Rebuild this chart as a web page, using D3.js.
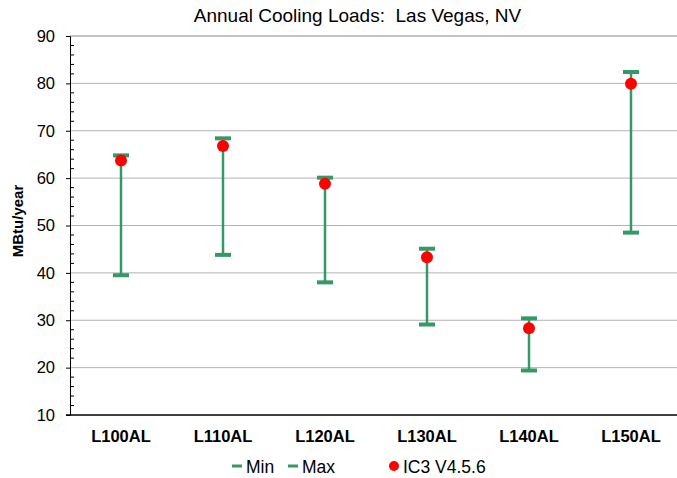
<!DOCTYPE html>
<html><head><meta charset="utf-8">
<script src="https://cdn.jsdelivr.net/npm/d3@7"></script>
<style>body{margin:0;background:#fff}text{font-family:"Liberation Sans",Arial,sans-serif;white-space:pre}</style>
</head><body><svg id="c" width="677" height="478"></svg>
<script>
const categories = ["L100AL","L110AL","L120AL","L130AL","L140AL","L150AL"];
const minValues = [39.5, 43.8, 38.0, 29.1, 19.4, 48.5];
const maxValues = [64.8, 68.4, 60.1, 45.1, 30.4, 82.4];
const ic3Values = [63.7, 66.8, 58.8, 43.3, 28.3, 79.9];
const yTicks = [10,20,30,40,50,60,70,80,90];

(function(){
const svg = d3.select("#c");
const green = "#339966", red = "#ff0000";
const pL = 70, pR = 682, pT = 36, pB = 415;
const x = d3.scaleBand().domain(categories).range([pL, pR]);
const y = d3.scaleLinear().domain([10, 90]).range([pB, pT]);

// gridlines
svg.append("g").selectAll("line").data(yTicks.slice(1)).join("line")
  .attr("x1", pL).attr("x2", 677).attr("y1", d => y(d)).attr("y2", d => y(d))
  .attr("stroke", d => d === 90 ? "#888" : "#b3b3b3").attr("stroke-width", 1);

// minor ticks
const minor = d3.range(12, 90, 2).filter(v => v % 10 !== 0);
svg.append("g").selectAll("line").data(minor).join("line")
  .attr("x1", pL).attr("x2", pL + 4).attr("y1", d => y(d)).attr("y2", d => y(d))
  .attr("stroke", "#000").attr("stroke-width", 1);

// y axis
const ya = svg.append("g").attr("transform", `translate(${pL},0)`)
  .call(d3.axisLeft(y).tickValues(yTicks).tickSize(4).tickPadding(11));
ya.select(".domain").attr("stroke", "#000");
ya.selectAll("text").attr("font-size", 16.5).attr("fill", "#000").attr("font-family", "Liberation Sans, Arial, sans-serif");

// x axis line
svg.append("line").attr("x1", pL - 4).attr("x2", 677).attr("y1", pB).attr("y2", pB)
  .attr("stroke", "#000").attr("stroke-width", 1.5);

// category labels
svg.append("g").selectAll("text").data(categories).join("text")
  .attr("x", d => x(d) + x.bandwidth() / 2).attr("y", 442)
  .attr("text-anchor", "middle").attr("font-size", 16.5).attr("font-weight", "bold").text(d => d);

// range bars
const g = svg.append("g");
categories.forEach((c, i) => {
  const cx = x(c) + x.bandwidth() / 2;
  g.append("line").attr("x1", cx).attr("x2", cx).attr("y1", y(minValues[i])).attr("y2", y(maxValues[i]))
    .attr("stroke", green).attr("stroke-width", 2.5);
  [minValues[i], maxValues[i]].forEach(v => {
    g.append("line").attr("x1", cx - 8).attr("x2", cx + 8).attr("y1", y(v)).attr("y2", y(v))
      .attr("stroke", green).attr("stroke-width", 4);
  });
});
g.selectAll("circle").data(ic3Values).join("circle")
  .attr("cx", (d, i) => x(categories[i]) + x.bandwidth() / 2).attr("cy", d => y(d))
  .attr("r", 6).attr("fill", red);

// title
svg.append("text").attr("x", 357.5).attr("y", 22).attr("text-anchor", "middle")
  .attr("font-size", 19).text("Annual Cooling Loads:  Las Vegas, NV");

// y label
svg.append("text").attr("transform", "translate(23,221) rotate(-90)").attr("text-anchor", "middle")
  .attr("font-size", 15).attr("font-weight", "bold").text("MBtu/year");

// legend
const lg = svg.append("g");
const ly = 466;
[["Min", 232], ["Max", 288]].forEach(([t, lx]) => {
  lg.append("line").attr("x1", lx).attr("x2", lx + 10).attr("y1", ly).attr("y2", ly)
    .attr("stroke", green).attr("stroke-width", 3);
  lg.append("text").attr("x", lx + 14).attr("y", 473).attr("font-size", 17.5).text(t);
});
lg.append("circle").attr("cx", 394).attr("cy", ly).attr("r", 5).attr("fill", red);
lg.append("text").attr("x", 403).attr("y", 473).attr("font-size", 17.5).text("IC3 V4.5.6");
})();
</script></body></html>
